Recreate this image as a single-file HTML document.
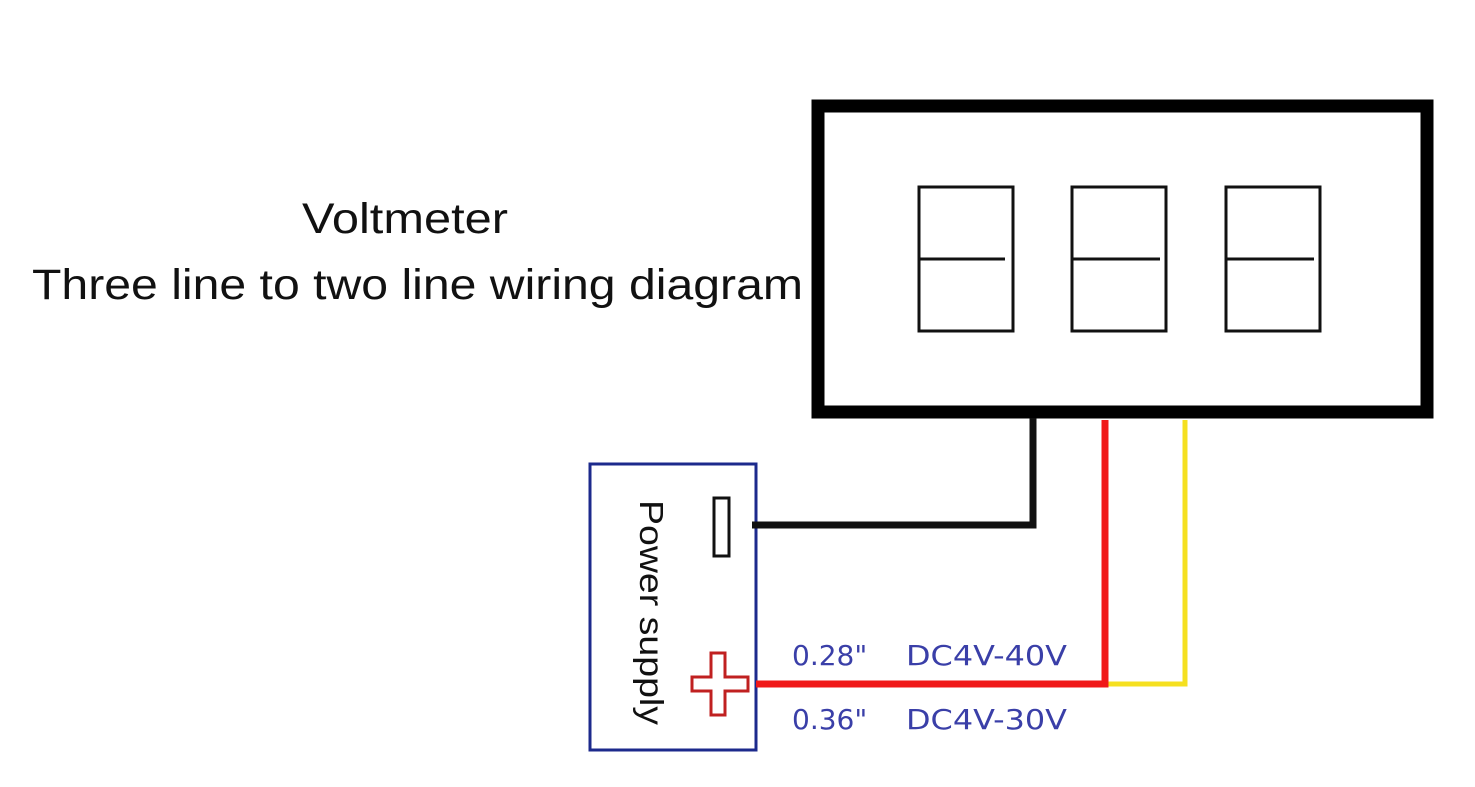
<!DOCTYPE html>
<html><head><style>
body{margin:0;background:#fff;}
svg{display:block}
</style></head><body>
<svg width="1475" height="787" xmlns="http://www.w3.org/2000/svg">
<rect width="1475" height="787" fill="#fff"/>
<text x="302" y="233" textLength="206" lengthAdjust="spacingAndGlyphs" font-family="Liberation Sans, sans-serif" font-size="43" fill="#111">Voltmeter</text>
<text x="32" y="299" textLength="771" lengthAdjust="spacingAndGlyphs" font-family="Liberation Sans, sans-serif" font-size="43" fill="#111">Three line to two line wiring diagram</text>
<rect x="818" y="106" width="609" height="306" fill="none" stroke="#000" stroke-width="13"/>
<g fill="none" stroke="#111" stroke-width="3">
<rect x="919" y="187" width="94" height="144"/><line x1="919" y1="259" x2="1005" y2="259"/>
<rect x="1072" y="187" width="94" height="144"/><line x1="1072" y1="259" x2="1160" y2="259"/>
<rect x="1226" y="187" width="94" height="144"/><line x1="1226" y1="259" x2="1314" y2="259"/>
</g>
<rect x="590" y="464" width="166" height="286" fill="none" stroke="#1c2a8c" stroke-width="3"/>
<text transform="translate(640,500) rotate(90)" textLength="225" lengthAdjust="spacingAndGlyphs" font-family="Liberation Sans, sans-serif" font-size="33" fill="#111">Power supply</text>
<rect x="714" y="498" width="15" height="58" fill="none" stroke="#111" stroke-width="3"/>
<path d="M711 653 h14 v24 h23 v14 h-23 v24 h-14 v-24 h-19 v-14 h19 z" fill="none" stroke="#c02020" stroke-width="3"/>
<polyline points="752,525 1033,525 1033,418" fill="none" stroke="#111" stroke-width="7"/>
<polyline points="1105,684 1185,684 1185,420" fill="none" stroke="#f5e020" stroke-width="5"/>
<polyline points="756,684 1105,684 1105,420" fill="none" stroke="#f01818" stroke-width="7"/>
<text x="792" y="665" font-family="DejaVu Sans, sans-serif" font-size="28" fill="#3a3fa8">0.28"</text>
<text x="906" y="665" textLength="161" lengthAdjust="spacingAndGlyphs" font-family="DejaVu Sans, sans-serif" font-size="28" fill="#3a3fa8">DC4V-40V</text>
<text x="792" y="729" font-family="DejaVu Sans, sans-serif" font-size="28" fill="#3a3fa8">0.36"</text>
<text x="906" y="729" textLength="161" lengthAdjust="spacingAndGlyphs" font-family="DejaVu Sans, sans-serif" font-size="28" fill="#3a3fa8">DC4V-30V</text>
</svg>
</body></html>
